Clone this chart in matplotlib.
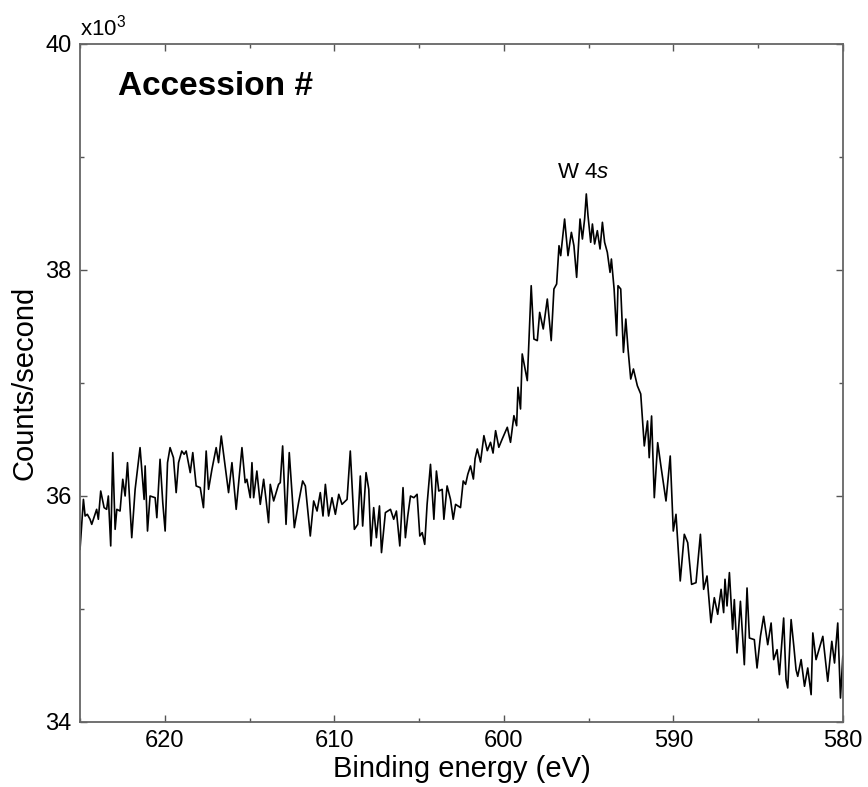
import matplotlib
matplotlib.use("Agg")
import matplotlib.pyplot as plt
from matplotlib.ticker import MultipleLocator, FuncFormatter

plt.rcParams["font.family"] = ["Liberation Sans", "DejaVu Sans"]
plt.rcParams["mathtext.fontset"] = "custom"
plt.rcParams["mathtext.rm"] = "Liberation Sans"
plt.rcParams["mathtext.it"] = "Liberation Sans:italic"

# binding energy (eV) and counts/second
energy = [
    625.00, 624.80, 624.70, 624.57, 624.41, 624.31, 624.02, 623.92, 623.78, 623.58,
    623.43, 623.33, 623.19, 623.07, 622.93, 622.83, 622.64, 622.48, 622.34, 622.20,
    621.95, 621.75, 621.46, 621.22, 621.16, 621.02, 620.87, 620.57, 620.47, 620.28,
    620.12, 619.98, 619.84, 619.69, 619.49, 619.33, 619.19, 619.00, 618.86, 618.74,
    618.50, 618.35, 618.15, 617.91, 617.72, 617.56, 617.42, 617.22, 616.97, 616.83,
    616.67, 616.44, 616.24, 616.04, 615.79, 615.45, 615.26, 615.16, 614.96, 614.86,
    614.76, 614.57, 614.37, 614.17, 614.02, 613.88, 613.78, 613.58, 613.29,
    613.19, 613.05, 612.85, 612.66, 612.36, 612.11, 611.87, 611.71, 611.42, 611.22,
    611.02, 610.83, 610.67, 610.53, 610.34, 610.14, 609.94, 609.74, 609.55, 609.25,
    609.06, 608.82, 608.62, 608.47, 608.33, 608.13, 607.97, 607.84, 607.68, 607.52,
    607.34, 607.22, 606.99, 606.69, 606.50, 606.34, 606.14, 605.95, 605.81, 605.67,
    605.51, 605.31, 605.12, 604.96, 604.82, 604.67, 604.53, 604.33, 604.13, 603.98,
    603.84, 603.64, 603.54, 603.35, 603.15, 602.99, 602.85, 602.56, 602.40, 602.26,
    602.13, 601.97, 601.80, 601.70,
    601.57, 601.38, 601.18, 600.98, 600.79, 600.64, 600.49, 600.30, 600.10, 599.80, 599.61,
    599.41, 599.25, 599.17, 599.02, 598.92, 598.62, 598.39, 598.23, 598.03, 597.89,
    597.68, 597.44, 597.21, 597.05, 596.89, 596.75, 596.65, 596.42, 596.22, 596.02,
    595.87, 595.71, 595.51, 595.37, 595.24, 595.14, 595.04, 594.88, 594.78, 594.65,
    594.49, 594.33, 594.19, 594.06, 593.90, 593.74, 593.66, 593.50, 593.35, 593.27,
    593.11, 592.95, 592.81, 592.68, 592.52, 592.36, 592.13, 591.93,
    591.72, 591.53, 591.43, 591.29, 591.13, 590.93, 590.74, 590.44, 590.19, 590.01,
    589.85, 589.60, 589.36, 589.16, 588.93, 588.67, 588.41, 588.22, 588.02, 587.79,
    587.59, 587.39, 587.19, 587.04, 586.96, 586.84, 586.70, 586.51,
    586.41, 586.25, 586.05, 585.82, 585.66, 585.52, 585.23, 585.07, 584.87, 584.68,
    584.44, 584.24, 584.09, 583.89, 583.75, 583.50, 583.36, 583.26, 583.06, 582.90,
    582.77, 582.67, 582.47, 582.27, 582.08, 581.88, 581.78, 581.59, 581.19, 580.90,
    580.66, 580.50, 580.31, 580.15, 580.01,
]
counts = [
    35528, 35970, 35823, 35838, 35794, 35749, 35882, 35794, 36044, 35897,
    35882, 36000, 35558, 36384, 35705, 35882, 35867, 36148, 36000, 36295,
    35631, 36059, 36428, 35970, 36266, 35690, 36000, 35985, 35808, 36325,
    35941, 35690, 36295, 36428, 36339, 36030, 36295, 36398, 36369, 36398,
    36207, 36384, 36089, 36074, 35897, 36398, 36059, 36236, 36428, 36295,
    36531, 36266, 36030, 36295, 35882, 36428, 36118, 36148, 35985, 36295,
    35985, 36221, 35926, 36148, 35956, 35764, 36103, 35956, 36103,
    36118, 36443, 35749, 36384, 35720, 35941, 36133, 36089, 35646, 35956,
    35867, 36030, 35823, 36103, 35823, 35985, 35838, 36015, 35926, 35970,
    36398, 35705, 35749, 36177, 35734, 36207, 36059, 35558, 35897, 35631,
    35912, 35499, 35853, 35882, 35794, 35867, 35558, 36074, 35631, 35823,
    36000, 35985, 36015, 35646, 35676, 35572, 35926, 36280, 35794, 36221,
    36044, 36059, 35794, 36089, 35970, 35794, 35926, 35897, 36133, 36103,
    36192, 36266, 36150, 36330,
    36416, 36300, 36534, 36401, 36475, 36380, 36578, 36431, 36504, 36608, 36475,
    36711, 36622, 36962, 36770, 37257, 37021, 37861, 37389, 37375, 37625,
    37478, 37743, 37375, 37832, 37876, 38215, 38127, 38451, 38127, 38333,
    38215, 37935, 38451, 38274, 38451, 38673, 38481, 38245, 38407, 38230,
    38348, 38186, 38422, 38245, 38156, 37979, 38097, 37832, 37419, 37861,
    37832, 37271, 37566, 37301, 37035, 37124, 36976, 36903,
    36443, 36664, 36339, 36708, 35985, 36472, 36266, 35956, 36354, 35690,
    35838, 35248, 35661, 35587, 35218, 35233, 35661, 35174, 35292, 34879,
    35100, 34953, 35174, 34968, 35263, 35027, 35322, 34820,
    35083, 34611, 35068, 34507, 35186, 34743, 34729, 34478, 34758, 34935,
    34684, 34876, 34552, 34640, 34419, 34920, 34375, 34301, 34906, 34670,
    34463, 34404, 34552, 34316, 34478, 34242, 34788, 34552, 34758, 34360,
    34714, 34522, 34876, 34212, 34581,
]

fig = plt.figure(figsize=(8.68, 7.87), dpi=100)
ax = fig.add_axes([0.0922, 0.0826, 0.8790, 0.8615])

ax.plot(energy, counts, color="black", lw=1.2)

ax.set_xlim(625, 580)
ax.set_ylim(34000, 40000)

ax.xaxis.set_major_locator(MultipleLocator(10))
ax.xaxis.set_minor_locator(MultipleLocator(5))
ax.yaxis.set_major_locator(MultipleLocator(2000))
ax.yaxis.set_minor_locator(MultipleLocator(1000))
ax.yaxis.set_major_formatter(FuncFormatter(lambda v, p: f"{v / 1000:.0f}"))

ax.tick_params(which="both", direction="in", top=True, right=True,
               color="#555555", width=1.0)
ax.tick_params(which="major", length=5, labelsize=17, pad=6)
ax.tick_params(which="minor", length=3)
for s in ax.spines.values():
    s.set_color("#666666")
    s.set_linewidth(1.3)

ax.set_xlabel("Binding energy (eV)", fontsize=21, labelpad=2)
ax.set_ylabel("Counts/second", fontsize=21, labelpad=5)

ax.text(0.0, 1.012, "x10$^3$", transform=ax.transAxes, fontsize=16,
        ha="left", va="baseline")
ax.text(0.05, 0.925, "Accession #", transform=ax.transAxes, fontsize=24,
        fontweight="bold", ha="left", va="baseline")
ax.text(595.3, 38814, "W 4$s$", fontsize=16, ha="center", va="baseline")

fig.savefig("out.png", dpi=100)
